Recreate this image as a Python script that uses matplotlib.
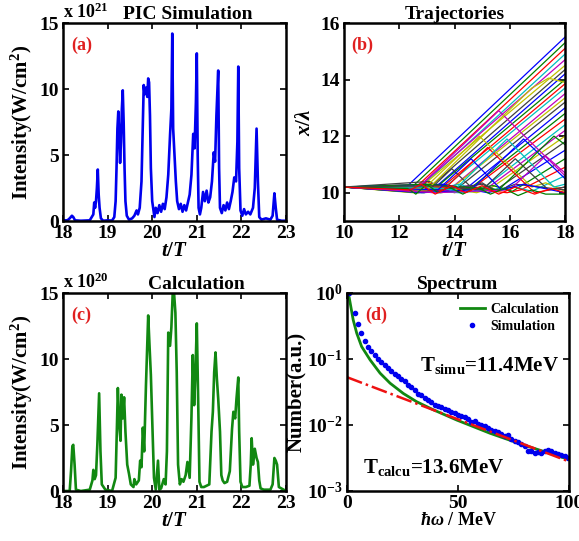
import numpy as np
import matplotlib
matplotlib.use("Agg")
import matplotlib.pyplot as plt

plt.rcParams['font.family'] = ['Liberation Serif', 'DejaVu Serif']
plt.rcParams['font.weight'] = 'bold'
plt.rcParams['axes.labelweight'] = 'bold'
plt.rcParams['axes.titleweight'] = 'bold'
plt.rcParams['mathtext.fontset'] = 'custom'
plt.rcParams['mathtext.rm'] = 'Liberation Serif:bold'
plt.rcParams['mathtext.it'] = 'Liberation Serif:italic:bold'
plt.rcParams['mathtext.bf'] = 'Liberation Serif:bold'
plt.rcParams['mathtext.default'] = 'rm'

# (a) PIC simulation intensity, units of 1e21 W/cm^2
t_sim = [18.00, 18.10, 18.15, 18.20, 18.23, 18.27, 18.40, 18.60, 18.68, 18.70, 18.72, 18.74,
         18.76, 18.78, 18.80, 18.82, 18.85, 18.90, 19.00, 19.10, 19.15, 19.18, 19.20, 19.22,
         19.24, 19.26, 19.28, 19.30, 19.32, 19.34, 19.36, 19.38, 19.40, 19.43, 19.48, 19.55,
         19.60, 19.65, 19.68, 19.72, 19.76, 19.79, 19.81, 19.83, 19.86, 19.89, 19.91, 19.93,
         19.95, 19.97, 20.00, 20.03, 20.05, 20.08, 20.12, 20.16, 20.20, 20.24, 20.28, 20.32,
         20.36, 20.40, 20.43, 20.45, 20.47, 20.50, 20.53, 20.56, 20.60, 20.64, 20.68, 20.72,
         20.76, 20.80, 20.84, 20.88, 20.92, 20.95, 20.98, 21.00, 21.02, 21.04, 21.07, 21.10,
         21.14, 21.18, 21.22, 21.26, 21.30, 21.34, 21.38, 21.41, 21.44, 21.48, 21.50, 21.52,
         21.56, 21.60, 21.64, 21.68, 21.72, 21.76, 21.80, 21.84, 21.88, 21.91, 21.93, 21.95,
         21.98, 22.02, 22.06, 22.10, 22.15, 22.20, 22.26, 22.30, 22.34, 22.37, 22.40, 22.45,
         22.55, 22.65, 22.70, 22.74, 22.77, 22.80, 22.90, 23.00]
I_sim = [0.05, 0.05, 0.2, 0.4, 0.3, 0.05, 0.02, 0.05, 0.5, 1.4, 1.0, 1.5,
         2.5, 3.9, 2.0, 1.0, 0.2, 0.02, 0.05, 0.03, 0.3, 1.5, 4.0, 7.0,
         8.3, 6.5, 4.4, 6.0, 8.5, 9.9, 7.5, 4.0, 1.5, 0.4, 0.1, 0.2,
         0.4, 0.8, 0.5, 1.0, 3.0, 7.5, 10.3, 9.6, 10.1, 9.4, 10.8, 10.5,
         8.0, 4.0, 1.5, 0.8, 0.3, 1.0, 0.6, 1.2, 0.7, 1.3, 0.9, 1.8,
         3.5, 6.5, 8.5, 14.2, 7.0, 5.0, 3.0, 1.5, 0.9, 1.3, 0.7, 1.2,
         0.8, 1.4, 2.0, 3.5, 6.6, 5.5, 9.0, 12.7, 5.0, 1.0, 0.5, 1.0,
         2.2, 1.5, 2.3, 1.4, 1.8, 3.0, 5.2, 4.5, 8.0, 11.4, 4.0, 1.0,
         0.6, 1.2, 0.8, 1.4, 0.9, 1.5, 2.2, 3.3, 3.0, 6.0, 11.7, 4.0,
         0.8, 0.4, 0.9, 0.5, 0.7, 0.5, 1.0, 2.5, 7.0, 3.0, 0.3, 0.1,
         0.2, 0.1, 0.4, 2.1, 1.0, 0.1, 0.02, 0.02]

# (c) calculation intensity, units of 1e20 W/cm^2
t_calc = [18.00, 18.15, 18.18, 18.21, 18.23, 18.26, 18.29, 18.40, 18.60, 18.66, 18.68, 18.71,
          18.74, 18.77, 18.81, 18.84, 18.87, 18.95, 19.10, 19.18, 19.21, 19.23, 19.26, 19.29,
          19.31, 19.34, 19.37, 19.40, 19.44, 19.48, 19.52, 19.58, 19.60, 19.64, 19.70, 19.73,
          19.76, 19.79, 19.82, 19.86, 19.91, 19.94, 19.97, 20.01, 20.04, 20.08, 20.13, 20.16,
          20.20, 20.26, 20.30, 20.33, 20.36, 20.40, 20.43, 20.46, 20.49, 20.52, 20.55, 20.58,
          20.62, 20.66, 20.70, 20.75, 20.79, 20.84, 20.88, 20.91, 20.94, 20.97, 21.00, 21.03,
          21.06, 21.10, 21.16, 21.22, 21.28, 21.33, 21.36, 21.39, 21.42, 21.45, 21.48, 21.52,
          21.55, 21.58, 21.62, 21.68, 21.74, 21.79, 21.82, 21.86, 21.89, 21.93, 21.95, 21.98,
          22.02, 22.10, 22.18, 22.21, 22.23, 22.26, 22.30, 22.34, 22.37, 22.40, 22.43, 22.50,
          22.65, 22.70, 22.74, 22.77, 22.80, 22.84, 23.00]
I_calc = [0.0, 0.0, 1.5, 3.4, 3.5, 2.0, 0.1, 0.0, 0.1, 0.8, 1.6, 0.9,
          1.2, 3.5, 7.4, 3.0, 0.5, 0.1, 0.0, 1.0, 5.0, 7.8, 5.0, 3.8,
          7.3, 5.5, 7.1, 4.5, 2.0, 1.3, 0.5, 0.3, 0.9, 0.5, 0.8, 2.3,
          1.8, 4.8, 3.0, 8.0, 13.3, 11.0, 8.8, 4.3, 1.0, 0.1, 2.3, 0.1,
          0.2, 0.9, 0.5, 3.0, 12.0, 11.0, 12.4, 15.0, 15.0, 13.5, 9.0, 2.0,
          0.5, 0.9, 0.7, 1.2, 2.2, 1.0, 5.6, 10.3, 6.5, 9.0, 12.7, 7.0,
          0.7, 0.3, 0.3, 0.4, 0.5, 4.5, 6.0, 9.0, 10.5, 8.5, 7.0, 4.5,
          1.2, 0.8, 0.6, 0.7, 1.5, 4.7, 6.0, 5.5, 7.0, 8.6, 4.5, 0.7,
          0.3, 0.3, 0.4, 2.0, 4.0, 2.0, 3.2, 2.5, 2.2, 0.8, 0.2, 0.1,
          0.1, 0.5, 2.5, 2.3, 2.0, 0.3, 0.0]

# (b) trajectories: vertices (t/T, x/lambda)
traj_pts = [
    [(10, 10.2), (12.2, 10.15), (18, 15.5)],
    [(10, 10.2), (12.35, 10.1), (18, 15.3)],
    [(10, 10.2), (12.5, 10.1), (18, 15.1)],
    [(10, 10.2), (12.6, 10.05), (18, 14.9)],
    [(10, 10.2), (12.4, 10.1), (12.75, 10.25), (18, 14.7)],
    [(10, 10.2), (12.5, 10.0), (12.9, 10.3), (18, 14.5)],
    [(10, 10.2), (12.6, 10.1), (13.05, 10.15), (18, 14.35)],
    [(10, 10.2), (12.5, 10.05), (12.9, 10.35), (13.2, 10.1), (18, 14.2)],
    [(10, 10.2), (12.7, 10.0), (13.35, 10.2), (18, 14.0)],
    [(10, 10.2), (12.6, 10.1), (13.0, 10.4), (13.5, 10.15), (18, 13.85)],
    [(10, 10.2), (12.8, 10.05), (13.65, 10.2), (18, 13.7)],
    [(10, 10.2), (12.9, 10.3), (13.3, 10.05), (13.8, 10.1), (18, 13.5)],
    [(10, 10.2), (12.7, 10.0), (13.95, 10.2), (18, 13.35)],
    [(10, 10.2), (13.1, 10.4), (13.6, 10.1), (14.1, 10.15), (18, 13.2)],
    [(10, 10.2), (12.8, 10.1), (13.5, 10.3), (14.3, 10.05), (18, 13.0)],
    [(10, 10.2), (12.9, 10.0), (13.8, 10.25), (14.5, 10.1), (18, 12.8)],
    [(10, 10.2), (13.2, 10.2), (14.0, 10.0), (14.7, 10.2), (18, 12.6)],
    [(10, 10.2), (13.0, 10.1), (14.2, 10.3), (14.9, 10.05), (18, 12.4)],
    [(10, 10.2), (13.3, 10.0), (14.5, 10.25), (15.1, 10.1), (18, 12.2)],
    [(10, 10.2), (13.4, 10.2), (14.8, 10.0), (15.3, 10.15), (18, 12.0)],
    [(10, 10.2), (13.1, 10.05), (15.0, 10.3), (15.5, 10.1), (18, 11.8)],
    [(10, 10.2), (13.6, 10.3), (15.2, 10.0), (15.8, 10.15), (18, 11.5)],
    [(10, 10.2), (13.5, 10.0), (15.4, 10.25), (16.1, 10.05), (18, 11.2)],
    [(10, 10.2), (14.0, 10.2), (15.9, 10.0), (16.4, 10.1), (18, 10.9)],
    [(10, 10.2), (14.2, 10.0), (16.2, 10.2), (16.8, 10.05), (18, 10.6)],
    [(10, 10.2), (12.6, 10.1), (15.6, 12.9), (18, 10.6)],
    [(10, 10.2), (12.9, 10.15), (14.9, 12.0), (16.8, 10.2), (17.3, 10.35), (18, 10.05)],
    [(10, 10.2), (13.2, 10.2), (13.9, 10.85), (14.6, 10.2), (15.0, 10.35), (15.5, 10.05), (16.2, 10.3), (18, 10.1)],
    [(10, 10.2), (12.8, 10.0), (14.6, 10.1), (16.5, 11.9), (18, 10.5)],
    [(10, 10.2), (13.0, 10.3), (15.6, 10.1), (17.6, 12.0), (18, 11.7)],
    [(10, 10.2), (12.7, 10.05), (13.6, 10.1), (15.2, 11.6), (16.9, 10.0), (18, 10.2)],
    [(10, 10.2), (12.9, 10.2), (14.0, 10.1), (15.9, 11.9), (17.6, 10.2), (18, 10.3)],
    [(10, 10.2), (13.3, 10.0), (16.0, 10.1), (17.3, 11.3), (18, 10.7)],
    [(10, 10.2), (13.0, 10.1), (16.8, 13.7), (17.4, 14.05), (18, 13.9)],
    [(10, 10.2), (13.4, 10.25), (15.0, 10.1), (16.2, 11.2), (17.4, 10.1), (18, 10.2)],
    [(10, 10.2), (13.4, 10.1), (14.6, 11.2), (15.7, 10.1), (16.5, 10.3), (18, 10.0)],
    [(10, 10.2), (12.3, 10.15), (12.6, 9.95), (13.0, 10.3), (13.4, 10.0), (13.8, 10.2),
     (14.3, 9.95), (14.8, 10.2), (15.3, 9.95), (15.8, 10.15), (16.3, 9.9), (16.8, 10.1),
     (17.3, 9.95), (18, 9.95)],
    [(10, 10.2), (12.4, 10.1), (12.8, 10.3), (13.3, 9.95), (13.9, 10.25), (14.4, 10.0),
     (15.0, 10.25), (15.6, 9.95), (16.2, 10.2), (16.9, 9.95), (17.5, 10.15), (18, 10.0)],
]
matlab_colors = [(0, 0, 1), (0, 0.5, 0), (1, 0, 0), (0, 0.75, 0.75),
                 (0.75, 0, 0.75), (0.75, 0.75, 0), (0.25, 0.25, 0.25)]

# (d) spectrum
E_sim = [1.0, 3.5, 5.0, 6.5, 8.0, 9.5, 11.0, 12.5, 14.0, 15.5, 17.0, 18.5, 20.0, 21.5,
         23.0, 24.5, 26.0, 27.5, 29.0, 30.5, 32.0, 33.5, 35.0, 36.5, 38.0, 39.5, 41.0,
         42.5, 44.0, 45.5, 47.0, 48.5, 50.0, 51.5, 53.0, 54.5, 56.0, 57.5, 59.0, 60.5,
         62.0, 63.5, 65.0, 66.5, 68.0, 69.5, 71.0, 72.5, 74.0, 75.5, 77.0, 78.5, 80.0,
         81.5, 83.0, 84.5, 86.0, 87.5, 89.0, 90.5, 92.0, 93.5, 95.0, 96.5, 98.0, 99.5]
N_sim = [1.0, 0.50, 0.34, 0.25, 0.19, 0.15, 0.13, 0.115, 0.10, 0.090, 0.080, 0.072, 0.066,
         0.060, 0.056, 0.050, 0.046, 0.041, 0.038, 0.034, 0.030, 0.028, 0.026, 0.024,
         0.0225, 0.020, 0.0195, 0.019, 0.0175, 0.017, 0.0155, 0.015, 0.014, 0.0135, 0.013,
         0.0125, 0.011, 0.0115, 0.0105, 0.010, 0.0095, 0.0090, 0.0085, 0.0082, 0.0078,
         0.0072, 0.0068, 0.0070, 0.0062, 0.0058, 0.0055, 0.0052, 0.0048, 0.0040, 0.0041,
         0.0038, 0.0039, 0.0037, 0.0041, 0.0042, 0.0040, 0.0037, 0.0036, 0.0035, 0.0034,
         0.0032]
E_calc = [0.3, 1.0, 2.0, 2.8, 4.4, 6.6, 10.4, 14.9, 19.4, 25.4, 31.4, 38.9, 49.4, 64.4,
          79.4, 88.4, 100]
N_calc = [1.0, 0.85, 0.55, 0.39, 0.245, 0.154, 0.097, 0.061, 0.043, 0.030, 0.0225,
          0.017, 0.0119, 0.0075, 0.005, 0.004, 0.003]
E_fit = [0, 100]
N_fit = [0.053, 0.0028]

W, H = 579, 541
fig = plt.figure(figsize=(W / 100, H / 100), dpi=100)

TICK = 14
LAB = 15


def make_ax(l, t, r, b):
    ax = fig.add_axes([l / W, 1 - b / H, (r - l) / W, (b - t) / H])
    for s in ax.spines.values():
        s.set_linewidth(1.8)
    ax.tick_params(direction='in', top=True, right=True, labelsize=TICK,
                   width=1.2, length=4, pad=3)
    return ax


def panel_label(ax, s, x=0.035):
    ax.text(x, 0.93, s, transform=ax.transAxes, color='#e02020',
            fontsize=13, fontweight='bold', va='top')


# (a)
ax = make_ax(63, 23, 286, 221)
ax.plot(t_sim, I_sim, color='#0000ee', lw=1.9)
ax.set_xlim(18, 23)
ax.set_ylim(0, 15)
ax.set_xticks([18, 19, 20, 21, 22, 23])
ax.set_yticks([0, 5, 10, 15])
ax.set_xlabel(r'$\mathit{t/T}$', fontsize=LAB, labelpad=-1)
ax.set_ylabel('Intensity(W/cm$^2$)', fontsize=LAB, labelpad=3)
ax.set_title('PIC Simulation', fontsize=14, pad=3, x=0.56)
ax.text(0.0, 1.005, r'x 10$^{21}$', transform=ax.transAxes, fontsize=13, va='bottom')
panel_label(ax, '(a)')

# (b)
ax = make_ax(344, 23, 565, 221)
for i, pts in enumerate(traj_pts):
    tt = [p[0] for p in pts]
    xx = [p[1] for p in pts]
    ax.plot(tt, xx, color=matlab_colors[i % 7], lw=0.9)
ax.set_xlim(10, 18)
ax.set_ylim(9, 16)
ax.set_xticks([10, 12, 14, 16, 18])
ax.set_yticks([10, 12, 14, 16])
ax.set_xlabel(r'$\mathit{t/T}$', fontsize=LAB, labelpad=-1)
ax.set_ylabel(r'$\mathit{x/\lambda}$', fontsize=LAB, labelpad=4)
ax.set_title('Trajectories', fontsize=14, pad=3)
panel_label(ax, '(b)')

# (c)
ax = make_ax(63, 293, 286, 491)
ax.plot(t_calc, I_calc, color='#118811', lw=1.9)
ax.set_xlim(18, 23)
ax.set_ylim(0, 15)
ax.set_xticks([18, 19, 20, 21, 22, 23])
ax.set_yticks([0, 5, 10, 15])
ax.set_xlabel(r'$\mathit{t/T}$', fontsize=LAB, labelpad=-1)
ax.set_ylabel('Intensity(W/cm$^2$)', fontsize=LAB, labelpad=3)
ax.set_title('Calculation', fontsize=14, pad=3, x=0.6)
ax.text(0.0, 1.005, r'x 10$^{20}$', transform=ax.transAxes, fontsize=13, va='bottom')
panel_label(ax, '(c)')

# (d)
ax = make_ax(347, 293, 569, 491)
ax.semilogy(E_calc, N_calc, color='#118811', lw=2, label='Calculation')
ax.semilogy(E_sim, N_sim, '.', color='#0000ee', ms=6, label='Simulation')
ax.semilogy(E_fit, N_fit, '-.', color='#ee1111', lw=1.8)
ax.set_xlim(0, 100)
ax.set_ylim(1e-3, 1)
ax.set_xticks([0, 50, 100])
ax.minorticks_off()
ax.set_xlabel(r'$\mathit{\hbar\omega}$ / MeV', fontsize=13, labelpad=0)
ax.set_ylabel('Number(a.u.)', fontsize=LAB, labelpad=1)
ax.set_title('Spectrum', fontsize=14, pad=3)
ax.legend(loc='upper right', frameon=False, fontsize=10, handlelength=1.8,
          borderaxespad=0.3, labelspacing=0.3, handletextpad=0.4)
ax.text(33, 0.065, r'T$_{simu}$=11.4MeV', fontsize=15, fontweight='bold')
ax.text(7, 0.0019, r'T$_{calcu}$=13.6MeV', fontsize=15, fontweight='bold')
panel_label(ax, '(d)', x=0.08)

fig.savefig('out.png', dpi=100)
